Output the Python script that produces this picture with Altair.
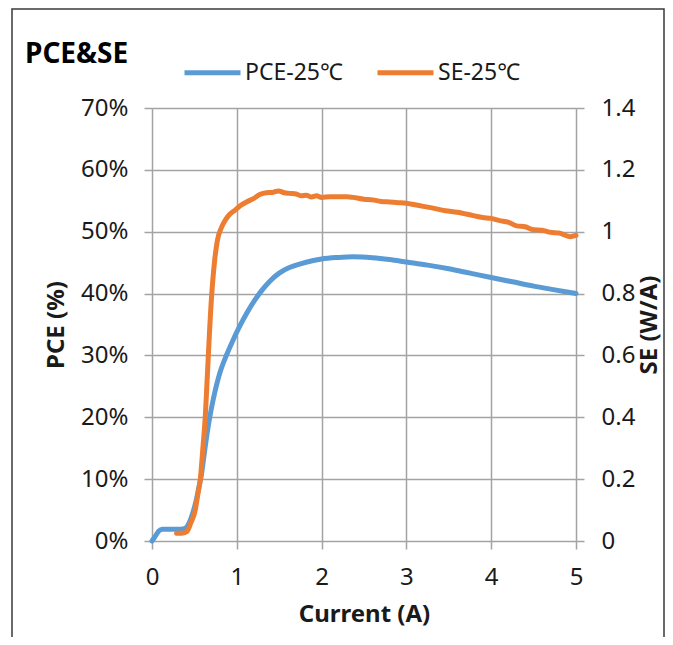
import altair as alt
import pandas as pd

# ---- data ----
pce_current = [0.00, 0.04, 0.08, 0.12, 0.20, 0.30, 0.38, 0.44, 0.48, 0.52, 0.55, 0.58,
               0.62, 0.66, 0.70, 0.74, 0.78, 0.82, 0.88, 0.95, 1.03, 1.12, 1.21, 1.30,
               1.39, 1.50, 1.62, 1.75, 1.89, 2.00, 2.20, 2.37, 2.60, 2.80, 3.00, 3.25,
               3.50, 3.75, 4.00, 4.25, 4.50, 4.75, 5.00]
pce_values = [0.0, 0.8, 1.6, 1.9, 1.9, 1.9, 2.0, 3.0, 4.5, 6.5, 8.5, 10.5,
              14.5, 18.3, 21.4, 24.0, 26.2, 28.0, 30.1, 32.3, 34.6, 36.9, 38.9, 40.6,
              42.0, 43.3, 44.2, 44.8, 45.3, 45.6, 45.85, 45.95, 45.8, 45.5, 45.1, 44.6,
              44.0, 43.3, 42.6, 41.9, 41.2, 40.6, 40.0]

se_current = [0.29, 0.35, 0.41, 0.46, 0.51, 0.54, 0.57, 0.60, 0.63, 0.65, 0.70, 0.74,
              0.77, 0.82, 0.87, 0.92, 0.98, 1.04, 1.12, 1.19, 1.27, 1.35, 1.42, 1.49,
              1.56, 1.62, 1.70, 1.76, 1.82, 1.88, 1.94, 2.00, 2.10, 2.20, 2.30, 2.37,
              2.50, 2.60, 2.70, 2.80, 2.90, 3.00, 3.10, 3.20, 3.30, 3.46, 3.60, 3.79,
              3.90, 4.00, 4.10, 4.20, 4.30, 4.40, 4.50, 4.60, 4.70, 4.80, 4.93, 5.00]
se_values = [0.025, 0.025, 0.030, 0.060, 0.100, 0.150, 0.200, 0.300, 0.410, 0.520, 0.780, 0.910,
             0.970, 1.014, 1.040, 1.057, 1.070, 1.084, 1.097, 1.106, 1.120, 1.126, 1.127, 1.132,
             1.126, 1.124, 1.122, 1.116, 1.118, 1.112, 1.116, 1.111, 1.113, 1.113, 1.113, 1.111,
             1.105, 1.103, 1.098, 1.096, 1.094, 1.092, 1.087, 1.082, 1.077, 1.068, 1.063, 1.052,
             1.046, 1.043, 1.036, 1.031, 1.019, 1.016, 1.006, 1.005, 0.998, 0.996, 0.984, 0.988]

series_names = ["PCE-25℃", "SE-25℃"]
series_colors = ["#5B9BD5", "#ED7D31"]
x_ticks = [0, 1, 2, 3, 4, 5]
pce_ticks = [0, 10, 20, 30, 40, 50, 60, 70]
se_ticks = [0, 0.2, 0.4, 0.6, 0.8, 1.0, 1.2, 1.4]
chart_title = "PCE&SE"

FONT = "Noto Sans"
GRID = "#a3a3a3"
TEXT = "#1a1a1a"

pce_df = pd.DataFrame({"current": pce_current, "value": pce_values, "series": series_names[0]})
se_df = pd.DataFrame({"current": se_current, "value": se_values, "series": series_names[1]})

color = alt.Color(
    "series:N",
    scale=alt.Scale(domain=series_names, range=series_colors),
    legend=alt.Legend(
        title=None, orient="none", direction="horizontal",
        legendX=30, legendY=-66, padding=0,
        symbolType="stroke", symbolSize=3136, symbolStrokeWidth=5,
        labelFont=FONT, labelFontSize=23, labelColor=TEXT,
        labelOffset=2, columnPadding=24,
    ),
)

x_enc = alt.X(
    "current:Q",
    scale=alt.Scale(domain=[0, 5], nice=False),
    axis=alt.Axis(
        values=x_ticks, format="d", title="Current (A)",
        grid=True, gridColor=GRID, gridWidth=1.5,
        domain=False, ticks=True, tickSize=8, tickColor=GRID, tickWidth=1.5,
        labelFont=FONT, labelFontSize=24, labelColor=TEXT, labelPadding=16,
        labelFlush=False,
        titleFont=FONT, titleFontSize=24, titleFontWeight="bold", titleColor=TEXT,
        titlePadding=13,
    ),
)

pce_line = alt.Chart(pce_df).mark_line(
    strokeWidth=5, interpolate="monotone", strokeCap="round", strokeJoin="round"
).encode(
    x=x_enc,
    y=alt.Y(
        "value:Q",
        scale=alt.Scale(domain=[0, 70], nice=False),
        axis=alt.Axis(
            values=pce_ticks, labelExpr="datum.value + '%'", title="PCE (%)",
            orient="left", grid=True, gridColor=GRID, gridWidth=1.5,
            domain=False, tickSize=8, tickColor=GRID, tickWidth=1.5,
            labelFont=FONT, labelFontSize=24, labelColor=TEXT, labelPadding=16,
            titleFont=FONT, titleFontSize=24, titleFontWeight="bold", titleColor=TEXT,
            titlePadding=12,
        ),
    ),
    color=color,
)

se_line = alt.Chart(se_df).mark_line(
    strokeWidth=5, interpolate="monotone", strokeCap="round", strokeJoin="round"
).encode(
    x=x_enc,
    y=alt.Y(
        "value:Q",
        scale=alt.Scale(domain=[0, 1.4], nice=False),
        axis=alt.Axis(
            values=se_ticks, format=".1~f", title="SE (W/A)",
            orient="right", grid=False,
            domain=False, tickSize=8, tickColor=GRID, tickWidth=1.5,
            labelFont=FONT, labelFontSize=24, labelColor=TEXT, labelPadding=17,
            titleFont=FONT, titleFontSize=24, titleFontWeight="bold", titleColor=TEXT,
            titleAngle=270, titleBaseline="top", titlePadding=3,
        ),
    ),
    color=color,
)

one = pd.DataFrame({"t": [chart_title]})

frame = alt.Chart(one).mark_rect(
    fill="transparent", stroke="#3a3a3a", strokeWidth=1.5
).encode(
    x=alt.value(-140), x2=alt.value(512), y=alt.value(-99), y2=alt.value(560)
)

title_text = alt.Chart(one).mark_text(
    align="left", baseline="alphabetic", font=FONT, fontSize=28,
    fontWeight="bold", color="#000000"
).encode(
    x=alt.value(-127), y=alt.value(-45), text="t:N"
)

chart = alt.layer(frame, pce_line, se_line, title_text).resolve_scale(
    y="independent"
).properties(
    width=424, height=433,
    autosize=alt.AutoSizeParams(type="none"),
    padding={"left": 144, "top": 100, "right": 89, "bottom": 96},
    background="white",
).configure_view(stroke="transparent")

chart.save("out.html", embed_options={"renderer": "svg", "actions": False})
